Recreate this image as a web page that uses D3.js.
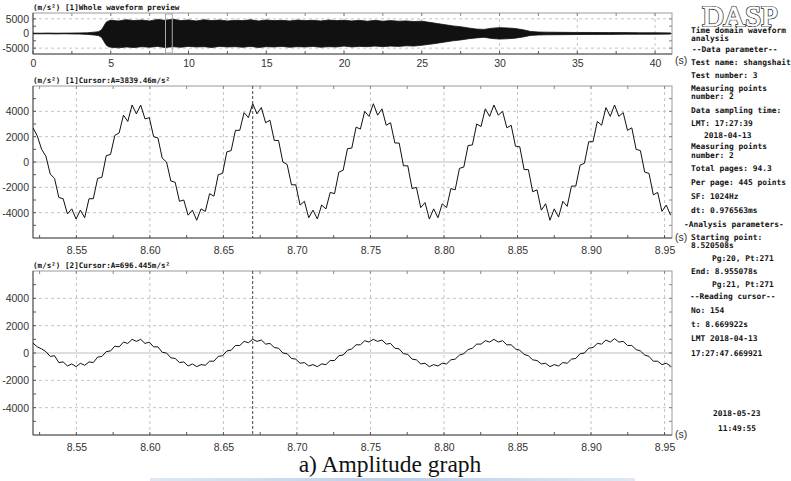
<!DOCTYPE html>
<html>
<head>
<meta charset="utf-8">
<script src="https://cdn.jsdelivr.net/npm/d3@7"></script>
<style>
  body { margin: 0; background: #fff; }
  svg { display: block; font-family: "Liberation Sans", Arial, sans-serif; }
  .mono { font-family: "DejaVu Sans Mono", monospace; font-weight: bold; fill: #111; }
</style>
</head>
<body>
<script>
(function () {
  'use strict';

  // ---- data ----
  // overview: envelope of the whole record (seconds, m/s^2)
  const envT = [0, 0.5, 1, 1.5, 2, 2.5, 3, 3.5, 3.9, 4.2, 4.4, 4.55, 4.7, 4.85,
    5, 5.5, 6, 6.5, 7, 7.5, 8, 8.5, 9, 9.5, 10, 10.5, 11, 11.5, 12, 12.5, 13, 13.5, 14, 14.5,
    15, 15.5, 16, 16.5, 17, 17.5, 18, 18.5, 19, 19.5, 20, 20.5, 21, 21.5, 22, 22.5, 23, 23.5, 24, 24.5,
    25, 25.5, 26, 26.5, 27, 27.5, 28, 28.5, 29, 29.5, 30, 30.5, 31, 31.5, 32, 32.5,
    33, 34, 35, 36, 37, 38, 39, 40, 41];
  const envHi = [120, 100, 150, 100, 130, 150, 200, 250, 450, 600, 1200, 2500, 3800, 4300,
    4500, 4300, 4700, 4400, 4600, 4300, 4800, 4500, 4900, 4400,
    4600, 4300, 4700, 4400, 4600, 4300, 4500, 4400, 4700, 4300,
    4600, 4400, 4500, 4300, 4600, 4400, 4500, 4300, 4600, 4400,
    4500, 4300, 4500, 4200, 4500, 4200, 4400, 4200, 4300, 4100,
    4200, 3800, 3400, 3000, 2600, 2300, 1900, 1500, 1400, 1800,
    2000, 1900, 1700, 1300, 700, 500,
    450, 400, 350, 350, 300, 300, 250, 250, 200];
  const envLo = [-100, -120, -100, -150, -100, -150, -200, -300, -500, -700, -1300, -2600, -3900, -4500,
    -4700, -4900, -4600, -4800, -4500, -4700, -4400, -4800, -4500, -4700,
    -4400, -4600, -4500, -4800, -4400, -4600, -4500, -4700, -4400, -4800,
    -4500, -4600, -4400, -4700, -4500, -4600, -4400, -4700, -4500, -4600,
    -4300, -4600, -4400, -4500, -4300, -4500, -4300, -4400, -4200, -4300,
    -4000, -3700, -3300, -2900, -2500, -2200, -1800, -1500, -1300, -1700,
    -1900, -1800, -1600, -1200, -650, -500,
    -450, -400, -350, -300, -300, -250, -250, -250, -200];

  // zoomed page: one value every 3 samples (dt = 0.976563 ms)
  const pageStart = 8.520508;
  const pageEnd = 8.955078;
  const ptStep = 0.00292969;
  const cursorT = 8.669922;

  const ch1Vals = [2700, 2050, 1000, 450, -950, -1300, -2800, -2900, -4100, -3700,
    -4500, -3800, -4400, -2900, -2900, -1300, -1200, 500, 600, 2100,
    2300, 3700, 3200, 4500, 3800, 4500, 3400, 3500, 2000, 1900,
    300, 0, -1500, -1600, -3100, -3000, -4200, -3800, -4600, -3700,
    -3900, -2500, -2700, -1000, -900, 800, 900, 2500, 2500, 3900,
    3500, 4600, 3800, 4300, 3100, 3300, 1700, 1700, 0, -200,
    -1800, -1800, -3400, -3100, -4400, -3800, -4500, -3400, -3700, -2400,
    -2500, -800, -650, 1050, 1100, 2750, 2600, 4000, 3600, 4600,
    3700, 4200, 2900, 3100, 1500, 1500, -300, -300, -2100, -2000,
    -3600, -3200, -4500, -3700, -4400, -3300, -3600, -2100, -2200, -500,
    -400, 1300, 1350, 3000, 2800, 4200, 3600, 4500, 3700, 4000,
    2700, 2900, 1250, 1200, -600, -600, -2350, -2200, -3800, -3300,
    -4600, -3700, -4350, -3100, -3500, -1900, -1900, -250, -100, 1600,
    1600, 3200, 2900, 4300, 3600, 4500, 3600, 3900, 2500, 2700,
    1000, 900, -800, -900, -2600, -2400, -3900, -3400, -4200];

  const ch2Vals = [720, 450, 300, 100, -250, -200, -700, -650, -950, -800,
    -1000, -750, -900, -650, -700, -300, -250, 100, 150, 500,
    450, 800, 700, 1000, 850, 1000, 700, 800, 450, 450,
    50, 0, -350, -400, -700, -650, -950, -800, -1000, -850,
    -900, -600, -600, -250, -200, 150, 200, 550, 550, 850,
    750, 1000, 850, 950, 650, 700, 400, 350, 0, -50,
    -400, -450, -750, -700, -950, -850, -1000, -800, -850, -550,
    -550, -200, -150, 200, 300, 600, 600, 900, 800, 1000,
    850, 950, 650, 700, 350, 300, -50, -100, -450, -500,
    -800, -750, -1000, -850, -950, -750, -800, -500, -450, -150,
    -50, 250, 350, 650, 650, 900, 800, 1000, 800, 900,
    600, 600, 300, 200, -100, -200, -500, -550, -800, -750,
    -1000, -850, -950, -700, -750, -450, -400, -50, 0, 350,
    400, 700, 650, 950, 800, 1050, 800, 850, 550, 550,
    250, 150, -150, -250, -600, -600, -850, -750, -950];

  const xLabTop = [0, 5, 10, 15, 20, 25, 30, 35, 40];
  const yLabTop = [5000, 0, -5000];
  const xLabZoom = [8.55, 8.60, 8.65, 8.70, 8.75, 8.80, 8.85, 8.90, 8.95];
  const yLabZoom = [4000, 2000, 0, -2000, -4000];

  const titles = [
    '(m/s\u00b2) [1]Whole waveform preview',
    '(m/s\u00b2) [1]Cursor:A=3839.46m/s\u00b2',
    '(m/s\u00b2) [2]Cursor:A=696.445m/s\u00b2'
  ];

  const sideText = [
    ['Time domain waveform', 691, 33],
    ['analysis', 691, 41],
    ['--Data parameter--', 692, 52],
    ['Test name: shangshait', 691, 65],
    ['Test number: 3', 691, 78],
    ['Measuring points', 691, 90.5],
    ['number: 2', 691, 98.5],
    ['Data sampling time:', 691, 112.5],
    ['LMT: 17:27:39', 691, 125.5],
    ['2018-04-13', 704, 138],
    ['Measuring points', 691, 148.5],
    ['number: 2', 691, 157.5],
    ['Total pages: 94.3', 691, 171],
    ['Per page: 445 points', 691, 184.5],
    ['SF: 1024Hz', 691, 198.5],
    ['dt: 0.976563ms', 691, 212.5],
    ['-Analysis parameters-', 684, 226.5],
    ['Starting point:', 691, 240],
    ['8.520508s', 691, 247.5],
    ['Pg:20, Pt:271', 712, 260.5],
    ['End: 8.955078s', 691, 274],
    ['Pg:21, Pt:271', 712, 287],
    ['--Reading cursor--', 690, 299],
    ['No: 154', 691, 313],
    ['t: 8.669922s', 691, 327],
    ['LMT 2018-04-13', 691, 341],
    ['17:27:47.669921', 691, 355.5],
    ['2018-05-23', 713, 416],
    ['11:49:55', 718, 430.5]
  ];

  const svg = d3.select('body').append('svg')
    .attr('width', 791)
    .attr('height', 481);

  const gridCol = '#c4c4c4';

  function panel(o) {
    const g = svg.append('g');
    const x = d3.scaleLinear().domain(o.xDomain).range([o.x0, o.x1]);
    const y = d3.scaleLinear().domain(o.yDomain).range([o.y1, o.y0]);

    const clipId = 'clip' + o.id;
    svg.append('clipPath').attr('id', clipId)
      .append('rect')
      .attr('x', o.x0).attr('y', o.y0)
      .attr('width', o.x1 - o.x0).attr('height', o.y1 - o.y0);

    // dashed grid
    g.append('g').selectAll('line').data(o.xGrid).join('line')
      .attr('x1', d => x(d)).attr('x2', d => x(d))
      .attr('y1', o.y0).attr('y2', o.y1)
      .attr('stroke', gridCol).attr('stroke-dasharray', '3,3');
    g.append('g').selectAll('line').data(o.yGrid).join('line')
      .attr('x1', o.x0).attr('x2', o.x1)
      .attr('y1', d => y(d)).attr('y2', d => y(d))
      .attr('stroke', gridCol).attr('stroke-dasharray', '3,3');
    // zero line
    g.append('line')
      .attr('x1', o.x0).attr('x2', o.x1)
      .attr('y1', y(0)).attr('y2', y(0))
      .attr('stroke', '#bdbdbd');

    // frame
    g.append('rect')
      .attr('x', o.x0).attr('y', o.y0)
      .attr('width', o.x1 - o.x0).attr('height', o.y1 - o.y0)
      .attr('fill', 'none').attr('stroke', '#9a9a9a');
    g.append('path')
      .attr('d', `M${o.x0},${o.y0}V${o.y1}H${o.x1}`)
      .attr('fill', 'none').attr('stroke', '#555');

    // minor ticks on all four sides, pointing inwards
    const tl = 3;
    g.append('g').selectAll('line').data(o.xMinor).join('line')
      .attr('x1', d => x(d)).attr('x2', d => x(d))
      .attr('y1', o.y1).attr('y2', o.y1 - tl)
      .attr('stroke', '#555');
    g.append('g').selectAll('line').data(o.xMinor).join('line')
      .attr('x1', d => x(d)).attr('x2', d => x(d))
      .attr('y1', o.y0).attr('y2', o.y0 + tl)
      .attr('stroke', '#888');
    g.append('g').selectAll('line').data(o.yMinor).join('line')
      .attr('x1', o.x0).attr('x2', o.x0 + tl)
      .attr('y1', d => y(d)).attr('y2', d => y(d))
      .attr('stroke', '#555');
    g.append('g').selectAll('line').data(o.yMinor).join('line')
      .attr('x1', o.x1).attr('x2', o.x1 - tl)
      .attr('y1', d => y(d)).attr('y2', d => y(d))
      .attr('stroke', '#888');

    // tick labels
    g.append('g')
      .attr('transform', `translate(${o.x0},0)`)
      .call(d3.axisLeft(y).tickValues(o.yLabels).tickSize(0).tickPadding(4)
        .tickFormat(d => String(d)))
      .call(a => a.select('.domain').remove())
      .attr('font-family', '"Liberation Sans", Arial, sans-serif')
      .attr('font-size', 10.5)
      .attr('color', '#333');
    g.append('g')
      .attr('transform', `translate(0,${o.y1})`)
      .call(d3.axisBottom(x).tickValues(o.xLabels).tickSize(0).tickPadding(o.xPad)
        .tickFormat(o.xFmt))
      .call(a => a.select('.domain').remove())
      .attr('font-family', '"Liberation Sans", Arial, sans-serif')
      .attr('font-size', 10.5)
      .attr('color', '#333');

    g.append('text')
      .attr('x', o.x1 + 3).attr('y', o.y1 + o.sDy)
      .attr('font-size', 10.5).attr('fill', '#333')
      .text('(s)');

    g.append('text').attr('class', 'mono')
      .attr('x', o.x0).attr('y', o.y0 - 3.5)
      .attr('font-size', 7.6)
      .text(o.title);

    return { g, x, y, clipId };
  }

  // ---- overview panel ----
  const top = panel({
    id: 0, x0: 33, x1: 672, y0: 13, y1: 54,
    xDomain: [0, 41.09], yDomain: [-7000, 7000],
    xGrid: xLabTop, yGrid: [5000, -5000],
    xMinor: d3.range(0, 41, 2.5), yMinor: [-5000, -2500, 0, 2500, 5000],
    xLabels: xLabTop, yLabels: yLabTop, xPad: 6, xFmt: d => String(d),
    sDy: 10, title: titles[0]
  });

  const env = envT.map((t, i) => ({ t, hi: envHi[i], lo: envLo[i] }));
  top.g.append('path')
    .datum(env)
    .attr('clip-path', `url(#${top.clipId})`)
    .attr('fill', '#111')
    .attr('stroke', '#111')
    .attr('stroke-width', 0.8)
    .attr('d', d3.area()
      .x(d => top.x(d.t))
      .y0(d => top.y(d.lo))
      .y1(d => top.y(d.hi)));

  // the page shown below, marked on the overview
  top.g.append('rect')
    .attr('x', top.x(pageStart)).attr('y', 14)
    .attr('width', top.x(pageEnd) - top.x(pageStart))
    .attr('height', 39)
    .attr('fill', 'none').attr('stroke', '#a8a8a8');

  // ---- zoomed channel panels ----
  function channel(id, y0, y1, vals, title) {
    const p = panel({
      id, x0: 33, x1: 672, y0, y1,
      xDomain: [pageStart, pageEnd], yDomain: [-6000, 6000],
      xGrid: xLabZoom, yGrid: [4000, 2000, -2000, -4000],
      xMinor: d3.range(8.525, 8.951, 0.025), yMinor: d3.range(-5000, 5001, 1000),
      xLabels: xLabZoom, yLabels: yLabZoom, xPad: 9, xFmt: d3.format('.2f'),
      sDy: 3, title
    });

    p.g.append('path')
      .datum(vals)
      .attr('clip-path', `url(#${p.clipId})`)
      .attr('fill', 'none')
      .attr('stroke', '#111')
      .attr('stroke-width', 1)
      .attr('d', d3.line()
        .x((d, i) => p.x(pageStart + i * ptStep))
        .y(d => p.y(d)));

    p.g.append('line')
      .attr('x1', p.x(cursorT)).attr('x2', p.x(cursorT))
      .attr('y1', y0).attr('y2', y1)
      .attr('stroke', '#444')
      .attr('stroke-dasharray', '3,2');
    return p;
  }

  channel(1, 86, 238, ch1Vals, titles[1]);
  channel(2, 271, 435, ch2Vals, titles[2]);

  // ---- right-hand info column ----
  const logo = svg.append('g');
  logo.append('text')
    .attr('x', 740).attr('y', 25.5)
    .attr('text-anchor', 'middle')
    .attr('font-family', '"Liberation Serif", "Times New Roman", serif')
    .attr('font-size', 29.5)
    .attr('fill', '#fff').attr('stroke', '#222').attr('stroke-width', 2.2)
    .text('DASP');
  logo.append('text')
    .attr('x', 740).attr('y', 25.5)
    .attr('text-anchor', 'middle')
    .attr('font-family', '"Liberation Serif", "Times New Roman", serif')
    .attr('font-size', 29.5)
    .attr('fill', '#fff').attr('stroke', '#fff').attr('stroke-width', 0.8)
    .text('DASP');

  svg.append('g').selectAll('text')
    .data(sideText)
    .join('text')
    .attr('class', 'mono')
    .attr('font-size', 7.9)
    .attr('x', d => d[1])
    .attr('y', d => d[2])
    .text(d => d[0]);

  // ---- caption ----
  svg.append('text')
    .attr('x', 390).attr('y', 472)
    .attr('text-anchor', 'middle')
    .attr('font-family', '"Liberation Serif", "Times New Roman", serif')
    .attr('font-size', 23.5)
    .attr('fill', '#111')
    .text('a) Amplitude graph');

  const grad = svg.append('defs').append('linearGradient')
    .attr('id', 'bar');
  grad.append('stop').attr('offset', '0%').attr('stop-color', '#dfe8f4');
  grad.append('stop').attr('offset', '50%').attr('stop-color', '#bccfe8');
  grad.append('stop').attr('offset', '100%').attr('stop-color', '#dfe8f4');
  svg.append('rect')
    .attr('x', 150).attr('y', 478)
    .attr('width', 485).attr('height', 3)
    .attr('fill', 'url(#bar)');

})();
</script>
</body>
</html>
